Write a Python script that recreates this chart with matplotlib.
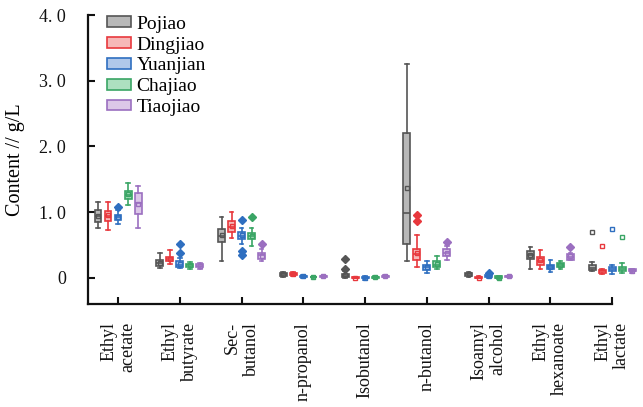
import matplotlib
matplotlib.use("Agg")
import matplotlib.pyplot as plt
from matplotlib.patches import Patch

plt.rcParams['font.family'] = ['Liberation Serif', 'DejaVu Serif']

categories = ["Ethyl\nacetate", "Ethyl\nbutyrate", "Sec-\nbutanol", "n-propanol",
              "Isobutanol", "n-butanol", "Isoamyl\nalcohol", "Ethyl\nhexanoate", "Ethyl\nlactate"]
series = ["Pojiao", "Dingjiao", "Yuanjian", "Chajiao", "Tiaojiao"]

# per series: whisker low, q1, median, q3, whisker high, mean, fliers (per category)
pojiao_lo   = [0.76, 0.15, 0.26, 0.01, 0.00, 0.26, 0.01, 0.14, 0.10]
pojiao_q1   = [0.85, 0.18, 0.54, 0.03, 0.01, 0.52, 0.03, 0.29, 0.12]
pojiao_med  = [0.94, 0.22, 0.64, 0.05, 0.03, 0.99, 0.05, 0.35, 0.15]
pojiao_q3   = [1.03, 0.27, 0.74, 0.07, 0.06, 2.20, 0.07, 0.40, 0.19]
pojiao_hi   = [1.16, 0.38, 0.93, 0.09, 0.10, 3.25, 0.09, 0.47, 0.24]
pojiao_mean = [0.94, 0.22, 0.65, 0.05, 0.04, 1.37, 0.05, 0.35, 0.70]
pojiao_fl   = [[], [], [], [], [0.14, 0.29], [], [], [], []]

dingjiao_lo   = [0.73, 0.21, 0.61, 0.02, -0.01, 0.17, -0.01, 0.13, 0.06]
dingjiao_q1   = [0.87, 0.25, 0.70, 0.04, -0.005, 0.27, -0.005, 0.20, 0.08]
dingjiao_med  = [0.94, 0.28, 0.78, 0.06, 0.00, 0.36, 0.00, 0.26, 0.10]
dingjiao_q3   = [1.02, 0.32, 0.87, 0.07, 0.005, 0.44, 0.01, 0.32, 0.12]
dingjiao_hi   = [1.16, 0.43, 1.00, 0.09, 0.01, 0.65, 0.02, 0.43, 0.14]
dingjiao_mean = [0.95, 0.29, 0.79, 0.06, 0.00, 0.38, 0.00, 0.27, 0.48]
dingjiao_fl   = [[], [], [], [], [], [0.86, 0.96], [], [], []]

yuanjian_lo   = [0.82, 0.15, 0.52, 0.00, -0.03, 0.07, 0.00, 0.09, 0.06]
yuanjian_q1   = [0.88, 0.17, 0.59, 0.01, -0.01, 0.12, 0.01, 0.13, 0.10]
yuanjian_med  = [0.92, 0.20, 0.64, 0.02, 0.00, 0.16, 0.03, 0.17, 0.13]
yuanjian_q3   = [0.96, 0.25, 0.70, 0.03, 0.01, 0.20, 0.04, 0.20, 0.16]
yuanjian_hi   = [1.03, 0.30, 0.76, 0.04, 0.02, 0.26, 0.05, 0.27, 0.20]
yuanjian_mean = [0.92, 0.21, 0.65, 0.02, 0.00, 0.16, 0.03, 0.17, 0.75]
yuanjian_fl   = [[1.08], [0.37, 0.52], [0.88, 0.40, 0.35], [], [], [], [0.07], [], []]

chajiao_lo   = [1.11, 0.13, 0.48, 0.00, -0.01, 0.13, -0.02, 0.14, 0.07]
chajiao_q1   = [1.20, 0.17, 0.59, 0.005, 0.00, 0.16, -0.01, 0.16, 0.10]
chajiao_med  = [1.26, 0.19, 0.64, 0.01, 0.01, 0.20, 0.00, 0.19, 0.13]
chajiao_q3   = [1.32, 0.21, 0.68, 0.015, 0.015, 0.25, 0.02, 0.22, 0.17]
chajiao_hi   = [1.45, 0.24, 0.76, 0.02, 0.02, 0.33, 0.03, 0.25, 0.22]
chajiao_mean = [1.27, 0.19, 0.64, 0.01, 0.01, 0.21, 0.00, 0.19, 0.62]
chajiao_fl   = [[], [], [0.93], [], [], [], [], [], []]

tiaojiao_lo   = [0.76, 0.14, 0.25, 0.01, 0.01, 0.27, 0.01, 0.27, 0.08]
tiaojiao_q1   = [0.97, 0.16, 0.29, 0.015, 0.015, 0.33, 0.015, 0.27, 0.10]
tiaojiao_med  = [1.14, 0.18, 0.34, 0.02, 0.02, 0.38, 0.02, 0.32, 0.11]
tiaojiao_q3   = [1.29, 0.21, 0.38, 0.03, 0.03, 0.44, 0.025, 0.36, 0.13]
tiaojiao_hi   = [1.40, 0.23, 0.44, 0.035, 0.035, 0.48, 0.03, 0.38, 0.14]
tiaojiao_mean = [1.12, 0.18, 0.33, 0.02, 0.02, 0.38, 0.02, 0.33, 0.11]
tiaojiao_fl   = [[], [], [0.52], [], [], [0.54], [], [0.47], []]

yticks = [0, 1, 2, 3, 4]
ytick_labels = ["0", "1. 0", "2. 0", "3. 0", "4. 0"]

data = [
    (pojiao_lo, pojiao_q1, pojiao_med, pojiao_q3, pojiao_hi, pojiao_mean, pojiao_fl),
    (dingjiao_lo, dingjiao_q1, dingjiao_med, dingjiao_q3, dingjiao_hi, dingjiao_mean, dingjiao_fl),
    (yuanjian_lo, yuanjian_q1, yuanjian_med, yuanjian_q3, yuanjian_hi, yuanjian_mean, yuanjian_fl),
    (chajiao_lo, chajiao_q1, chajiao_med, chajiao_q3, chajiao_hi, chajiao_mean, chajiao_fl),
    (tiaojiao_lo, tiaojiao_q1, tiaojiao_med, tiaojiao_q3, tiaojiao_hi, tiaojiao_mean, tiaojiao_fl),
]

edge_colors = ["#555555", "#e8383d", "#2f6fc0", "#3aa565", "#9b6fc0"]
face_colors = ["#b8b8b8", "#f6b8b8", "#b0c8ea", "#ade0c0", "#dcc8e8"]

fig = plt.figure(figsize=(6.43, 4.07), dpi=100)
ax = fig.add_axes([0.137, 0.253, 0.815, 0.71])

spacing = 0.162
width = 0.11
for j, (lo, q1, med, q3, hi, mean, fl) in enumerate(data):
    stats = []
    for i in range(len(categories)):
        stats.append(dict(whislo=lo[i], q1=q1[i], med=med[i], q3=q3[i], whishi=hi[i],
                          mean=mean[i], fliers=fl[i]))
    positions = [i + (j - 2) * spacing for i in range(len(categories))]
    ec = edge_colors[j]
    fc = face_colors[j]
    bp = ax.bxp(stats, positions=positions, widths=width, patch_artist=True,
                showmeans=True, showfliers=True, manage_ticks=False,
                boxprops=dict(facecolor=fc, edgecolor=ec, linewidth=1.2),
                medianprops=dict(color=ec, linewidth=1.2),
                whiskerprops=dict(color=ec, linewidth=1.2),
                capprops=dict(color=ec, linewidth=1.2),
                capwidths=width * 0.55,
                meanprops=dict(marker='s', markersize=3.5, markerfacecolor='none',
                               markeredgecolor=ec, markeredgewidth=1.0),
                flierprops=dict(marker='D', markersize=4, markerfacecolor=ec,
                                markeredgecolor=ec))
    for k in bp.keys():
        for art in bp[k]:
            art.set_clip_on(False)

ax.set_xlim(-0.486, 8.0)
ax.set_ylim(-0.4, 4.0)
ax.set_yticks(yticks)
ax.set_yticklabels(ytick_labels, fontsize=13)
ax.set_xticks(range(len(categories)))
ax.set_xticklabels(categories, rotation=90, fontsize=13, va='top', ha='center',
                   multialignment='right', linespacing=1.15)
ax.tick_params(axis='both', direction='in', length=5, width=1.5, colors='#111111')
ax.tick_params(axis='x', pad=13)
ax.tick_params(axis='y', pad=16)
for s in ['top', 'right']:
    ax.spines[s].set_visible(False)
for s in ['left', 'bottom']:
    ax.spines[s].set_linewidth(1.6)
    ax.spines[s].set_color('#111111')

ax.set_ylabel("Content // g/L", fontsize=14.5, labelpad=10)

handles = [Patch(facecolor=face_colors[j], edgecolor=edge_colors[j], linewidth=1.2, label=series[j])
           for j in range(len(series))]
ax.legend(handles=handles, loc='upper left', bbox_to_anchor=(0.022, 1.025), frameon=False,
          fontsize=14, handlelength=1.2, handleheight=0.45, handletextpad=0.3,
          labelspacing=0.2, borderaxespad=0.0)

fig.savefig("out.png", dpi=100)
